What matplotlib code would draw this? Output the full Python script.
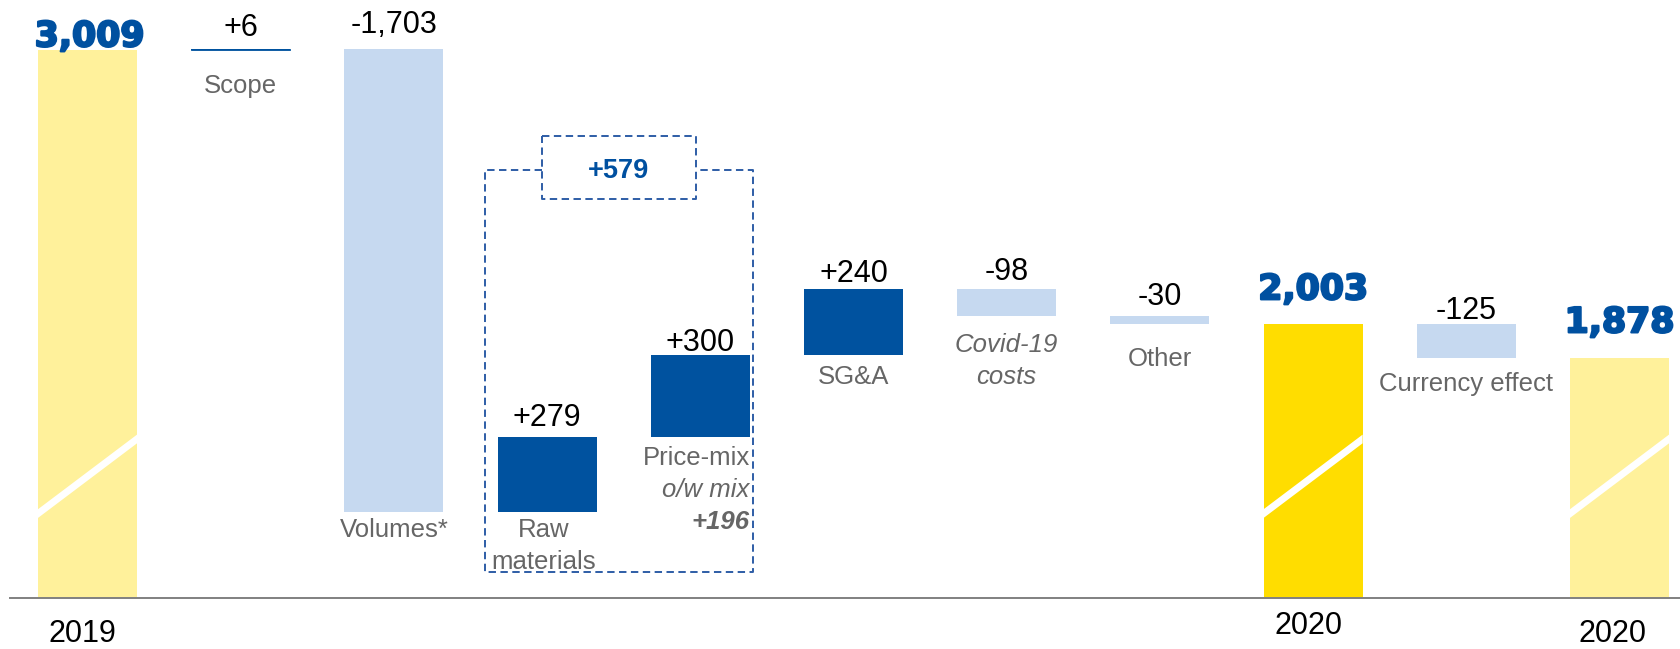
import matplotlib
matplotlib.use("Agg")
import matplotlib.pyplot as plt
import matplotlib.patheffects as pe

# ---------------- data ----------------
categories = ["2019", "Scope", "Volumes*", "Raw\nmaterials", "Price-mix", "SG&A",
              "Covid-19\ncosts", "Other", "2020", "Currency effect", "2020"]
values = [3009, 6, -1703, 279, 300, 240, -98, -30, 2003, -125, 1878]
is_total = [True, False, False, False, False, False, False, False, True, False, True]
value_labels = ["3,009", "+6", "-1,703", "+279", "+300", "+240", "-98", "-30",
                "2,003", "-125", "1,878"]
group_label = "+579"          # Raw materials + Price-mix
mix_note = ["o/w mix", "+196"]

# ---------------- style / layout ----------------
W, H = 1681, 649
PX_PER_UNIT = 0.2723
BASE = 998            # value shown at the broken baseline
BASE_PX = 598         # baseline pixel row (from top)
X0_PX, STEP_PX = 87.5, 153.2
BAR_W = 99 / STEP_PX

PALE = "#FFF19B"
GOLD = "#FFDD00"
LIGHT = "#C6D9F0"
DARK = "#00529F"
TXT_BLUE = "#0050A0"
GRAY = "#666666"

def px2x(px):
    return (px - X0_PX) / STEP_PX

def px2y(py):
    return BASE + (BASE_PX - py) / PX_PER_UNIT

fig = plt.figure(figsize=(W / 100, H / 100), dpi=100)
ax = fig.add_axes([0, 0, 1, 1])
ax.set_xlim(px2x(0), px2x(W))
ax.set_ylim(px2y(H), px2y(0))
ax.axis("off")

# waterfall geometry
bottoms, tops, colors = [], [], []
level = 0
for i, v in enumerate(values):
    if is_total[i]:
        bottoms.append(BASE); tops.append(v); level = v
        colors.append(GOLD if i == 8 else PALE)
    else:
        new = level + v
        bottoms.append(min(level, new)); tops.append(max(level, new)); level = new
        colors.append(DARK if v > 0 else LIGHT)

xs = list(range(len(values)))
heights = [t - b for t, b in zip(tops, bottoms)]
ax.bar(xs, heights, bottom=bottoms, width=BAR_W, color=colors, linewidth=0, zorder=2)
# make tiny scope bar visible as line like reference
ax.bar([1], [heights[1]], bottom=[bottoms[1]], width=BAR_W, color=DARK,
       edgecolor=DARK, linewidth=0.6, zorder=2)

# broken-axis slashes on total bars
SL_LO, SL_HI, SL_T = 1308, 1582, 32
for i in xs:
    if is_total[i]:
        l, r = i - BAR_W / 2, i + BAR_W / 2
        ax.fill([l, r, r, l], [SL_LO - SL_T / 2, SL_HI - SL_T / 2, SL_HI + SL_T / 2, SL_LO + SL_T / 2],
                color="white", linewidth=0, zorder=3)

# baseline
ax.plot([px2x(10), px2x(W)], [BASE, BASE], color="#808080", lw=1.4, zorder=4)

FONT = "Liberation Sans"
heavy = [pe.withStroke(linewidth=1.6, foreground=TXT_BLUE)]

# value labels (offset in px above bar top)
val_off = [4, 13, 16, 11, 4, 7, 9, 11, 25, 5, 26]
for i in xs:
    top = tops[i] if not is_total[i] else values[i]
    if is_total[i]:
        ax.annotate(value_labels[i], (i, top), xytext=(2 if i == 0 else 0, val_off[i]),
                    textcoords="offset pixels", ha="center", va="baseline",
                    fontsize=25, fontweight="bold", family="DejaVu Sans", color=TXT_BLUE,
                    path_effects=heavy, zorder=5)
    else:
        ax.annotate(value_labels[i], (i, top), xytext=(0, val_off[i]),
                    textcoords="offset pixels", ha="center", va="baseline",
                    fontsize=22, family=FONT, color="black", zorder=5)

# category labels below delta bars (offset in px of first baseline below bar bottom)
cat_off = {1: 43, 2: 25, 3: 25, 4: 28, 5: 29, 6: 36, 7: 42, 9: 33}
italic = {6}
LINE = 32
for i, off in cat_off.items():
    lines = categories[i].split("\n")
    for k, ln in enumerate(lines):
        if i == 4:
            ax.annotate(ln, (i + BAR_W / 2, bottoms[i]), xytext=(0, -(off + LINE * k)),
                        textcoords="offset pixels", ha="right", va="baseline",
                        fontsize=18.5, family=FONT, color=GRAY, zorder=5)
        else:
            ax.annotate(ln, (i, bottoms[i]), xytext=(-3 if i == 3 else 0, -(off + LINE * k)),
                        textcoords="offset pixels", ha="center", va="baseline",
                        fontsize=18.5, family=FONT, color=GRAY,
                        style="italic" if i in italic else "normal", zorder=5)

# price-mix notes
for k, (txt, wt) in enumerate(zip(mix_note, ["normal", "bold"])):
    ax.annotate(txt, (4 + BAR_W / 2, bottoms[4]), xytext=(0, -(28 + LINE * (k + 1))),
                textcoords="offset pixels", ha="right", va="baseline",
                fontsize=18.5, family=FONT, color=GRAY, style="italic",
                fontweight=wt, zorder=5)

# year labels under totals
year_off = {0: (-5, -44), 8: (-5, -36), 10: (-7, -44)}
for i, (dx, dy) in year_off.items():
    ax.annotate(categories[i], (i, BASE), xytext=(dx, dy), textcoords="offset pixels",
                ha="center", va="baseline", fontsize=22, family=FONT, color="black", zorder=5)

# dashed bracket around Raw materials + Price-mix
dash = dict(color="#2E5DA6", lw=1.4, linestyle=(0, (3.8, 2.3)), zorder=4)
oL, oR, oT, oB = px2x(485), px2x(753), px2y(170), px2y(572)
iL, iR, iT, iB = px2x(542), px2x(696), px2y(136), px2y(199)
ax.plot([iL, oL, oL, oR, oR, iR], [oT, oT, oB, oB, oT, oT], **dash)
ax.plot([iL, iR, iR, iL, iL], [iT, iT, iB, iB, iT], **dash)
ax.text((iL + iR) / 2, px2y(178), group_label, ha="center", va="baseline",
        fontsize=19.5, fontweight="bold", family=FONT, color=TXT_BLUE, zorder=5)

fig.savefig("out.png", dpi=100)
